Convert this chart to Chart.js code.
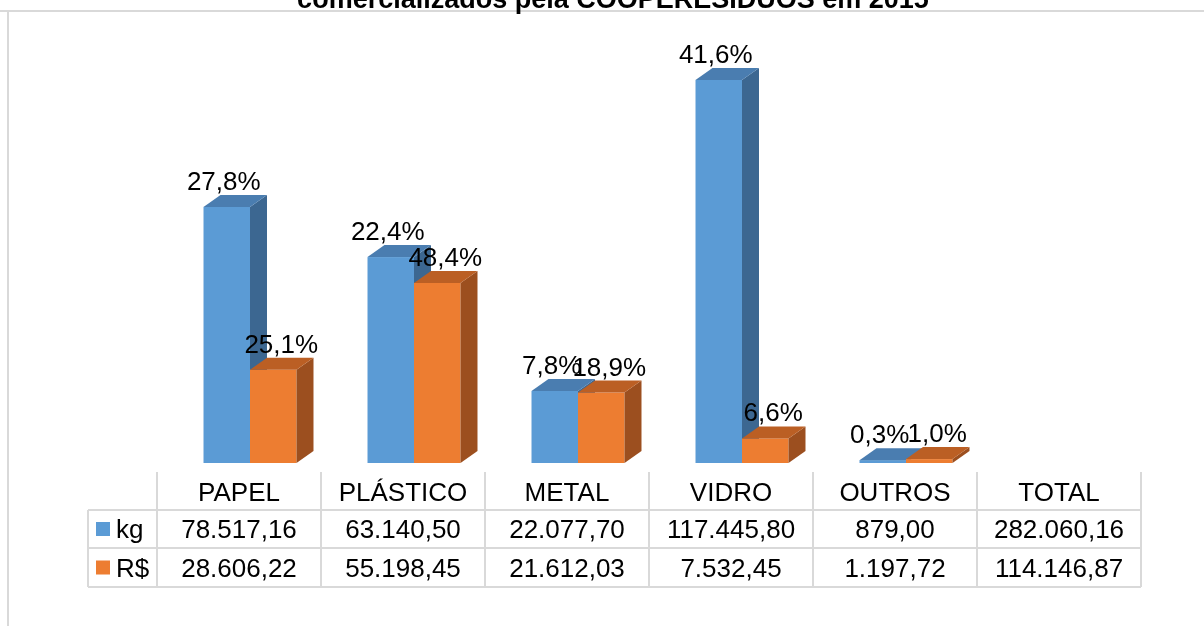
<!DOCTYPE html>
<html>
<head>
<meta charset="utf-8">
<script src="https://cdn.jsdelivr.net/npm/chart.js@4"></script>
<style>
  html, body { margin: 0; padding: 0; background: #fff; }
  #wrap { width: 1204px; height: 626px; }
</style>
</head>
<body>
<div id="wrap"><canvas id="materiaisChart" width="1204" height="626"></canvas></div>
<script>
// categorias e valores
const categorias = ['PAPEL', 'PLÁSTICO', 'METAL', 'VIDRO', 'OUTROS', 'TOTAL'];
const kgValores = [78517.16, 63140.50, 22077.70, 117445.80, 879.00];
const rsValores = [28606.22, 55198.45, 21612.03, 7532.45, 1197.72];
const kgTotal = 282060.16;
const rsTotal = 114146.87;
const kgPercent = [27.8, 22.4, 7.8, 41.6, 0.3];
const rsPercent = [25.1, 48.4, 18.9, 6.6, 1.0];
const titulo = 'comercializados pela COOPERESÍDUOS em 2015';

const FONT = '"Liberation Sans", Arial, sans-serif';
const DX = 17, DY = 12; // profundidade 3D

function fmtBR(v) {
    const parts = v.toFixed(2).split('.');
    parts[0] = parts[0].replace(/\B(?=(\d{3})+(?!\d))/g, '.');
    return parts[0] + ',' + parts[1];
}
function fmtPct(v) {
    return v.toFixed(1).replace('.', ',') + '%';
}

const cores = [
    { front: '#5b9bd5', top: '#4a7db0', side: '#3c6791', label: -3 },
    { front: '#ed7d31', top: '#bb5f24', side: '#9c4f1f', label: 8 }
];
const percentuais = [kgPercent, rsPercent];

const barras3d = {
    id: 'barras3d',
    afterDatasetsDraw(chart) {
        const ctx = chart.ctx;
        ctx.save();
        chart.data.datasets.forEach((ds, di) => {
            const meta = chart.getDatasetMeta(di);
            const c = cores[di];
            meta.data.forEach((bar, i) => {
                if (ds.data[i] == null || isNaN(bar.y)) return;
                const x0 = bar.x - bar.width / 2, x1 = bar.x + bar.width / 2;
                const yt = bar.y, yb = bar.base;
                // frente
                ctx.fillStyle = c.front;
                ctx.fillRect(x0, yt, x1 - x0, yb - yt);
                // lateral
                ctx.fillStyle = c.side;
                ctx.beginPath();
                ctx.moveTo(x1, yb);
                ctx.lineTo(x1 + DX, yb - DY);
                ctx.lineTo(x1 + DX, yt - DY);
                ctx.lineTo(x1, yt);
                ctx.closePath();
                ctx.fill();
                // topo
                ctx.fillStyle = c.top;
                ctx.beginPath();
                ctx.moveTo(x0, yt);
                ctx.lineTo(x0 + DX, yt - DY);
                ctx.lineTo(x1 + DX, yt - DY);
                ctx.lineTo(x1, yt);
                ctx.closePath();
                ctx.fill();
            });
        });
        // rótulos percentuais
        ctx.fillStyle = '#000';
        ctx.font = '26px ' + FONT;
        ctx.textAlign = 'center';
        ctx.textBaseline = 'alphabetic';
        chart.data.datasets.forEach((ds, di) => {
            const meta = chart.getDatasetMeta(di);
            meta.data.forEach((bar, i) => {
                if (ds.data[i] == null || isNaN(bar.y)) return;
                ctx.fillText(fmtPct(percentuais[di][i]), bar.x + cores[di].label, bar.y - DY - 5);
            });
        });
        ctx.restore();
    },
    afterDraw(chart) {
        const ctx = chart.ctx;
        const xs = chart.scales.x;
        const colW = xs.getPixelForTick(1) - xs.getPixelForTick(0);
        const shift = -11;
        const left = 88;
        const rows = [472, 510, 548, 587];
        ctx.save();
        // moldura
        ctx.strokeStyle = '#d9d9d9';
        ctx.lineWidth = 2;
        ctx.beginPath();
        ctx.moveTo(0, 11); ctx.lineTo(1204, 11);
        ctx.moveTo(8, 11); ctx.lineTo(8, 626);
        ctx.stroke();

        // título (cortado no topo)
        ctx.fillStyle = '#000';
        ctx.font = 'bold 27px ' + FONT;
        ctx.textAlign = 'center';
        ctx.textBaseline = 'alphabetic';
        ctx.fillText(titulo, 613, 8);

        // tabela de dados
        const colLeft = i => xs.getPixelForTick(i) - colW / 2 + shift;
        const n = categorias.length;
        const right = colLeft(n - 1) + colW;
        ctx.strokeStyle = '#d9d9d9';
        ctx.lineWidth = 2;
        ctx.beginPath();
        for (let i = 0; i <= n; i++) {
            const x = i < n ? colLeft(i) : right;
            ctx.moveTo(x, rows[0]); ctx.lineTo(x, rows[3]);
        }
        ctx.moveTo(left, rows[1]); ctx.lineTo(left, rows[3]);
        for (let r = 1; r < 4; r++) {
            ctx.moveTo(left, rows[r]); ctx.lineTo(right, rows[r]);
        }
        ctx.stroke();

        ctx.fillStyle = '#000';
        ctx.font = '26px ' + FONT;
        ctx.textAlign = 'center';
        ctx.textBaseline = 'middle';
        const kgLinha = kgValores.concat([kgTotal]);
        const rsLinha = rsValores.concat([rsTotal]);
        categorias.forEach((cat, i) => {
            const cx = colLeft(i) + colW / 2;
            ctx.fillText(cat, cx, (rows[0] + rows[1]) / 2 + 3);
            ctx.fillText(fmtBR(kgLinha[i]), cx, (rows[1] + rows[2]) / 2 + 2);
            ctx.fillText(fmtBR(rsLinha[i]), cx, (rows[2] + rows[3]) / 2 + 2);
        });
        // legenda dentro da tabela
        const series = chart.data.datasets;
        series.forEach((ds, di) => {
            const cy = (rows[di + 1] + rows[di + 2]) / 2;
            ctx.fillStyle = cores[di].front;
            ctx.fillRect(96, cy - 7, 14, 14);
            ctx.fillStyle = '#000';
            ctx.textAlign = 'left';
            ctx.fillText(ds.label, 116, cy + 2);
        });
        ctx.restore();
    }
};

const ctx = document.getElementById('materiaisChart').getContext('2d');
const materiaisChart = new Chart(ctx, {
    type: 'bar',
    data: {
        labels: categorias,
        datasets: [
            { label: 'kg', data: kgValores.concat([null]), backgroundColor: 'rgba(0,0,0,0)' },
            { label: 'R$', data: rsValores.concat([null]), backgroundColor: 'rgba(0,0,0,0)' }
        ]
    },
    plugins: [barras3d],
    options: {
        responsive: false,
        animation: false,
        layout: { padding: { left: 168, right: 52, top: 39, bottom: 163 } },
        categoryPercentage: 0.567,
        barPercentage: 1.0,
        scales: {
            x: { display: false },
            y: { display: false, min: 0, max: 130000 }
        },
        plugins: {
            legend: { display: false },
            tooltip: { enabled: false },
            title: { display: false }
        }
    }
});
</script>
</body>
</html>
